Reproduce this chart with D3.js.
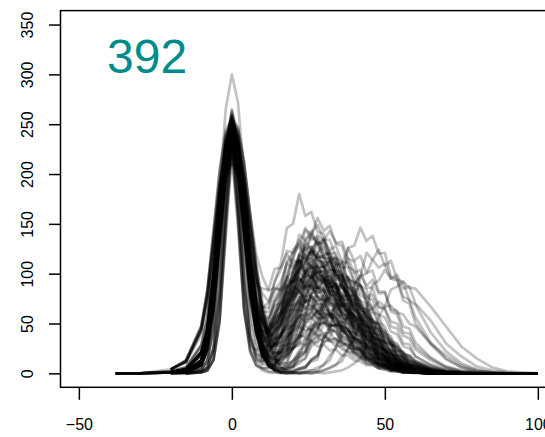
<!DOCTYPE html>
<html>
<head>
<meta charset="utf-8">
<script src="https://cdn.jsdelivr.net/npm/d3@7"></script>
<style>
html,body{margin:0;padding:0;background:#fff;}
svg{display:block;}
text{font-family:"Liberation Sans",Arial,Helvetica,sans-serif;}
</style>
</head>
<body>
<svg id="chart" width="545" height="437"></svg>
<script>
// x grid shared by every curve
const xs = [-38,-30,-20,-15,-10,-8,-6,-4,-2,0,2,4,6,8,10,12,14,16,18,20,22,24,26,28,30,32,34,36,38,40,42,44,46,48,50,52,54,56,58,60,65,70,75,80,85,90,95,100];

const xTicks = [-50, 0, 50, 100];
const yTicks = [0, 50, 100, 150, 200, 250, 300, 350];
const label = "392";

// curves (one per trace)
const c01 = [null,null,1,1,6,18,60,130,205,240,206,137,74,38,27,29,41,60,73,97,103,114,106,108,95,93,79,75,60,54,40,36,24,21,13,12,7,6,3,2,1,0,0,0,0,null,null,null];
const c02 = [null,null,1,2,12,33,81,154,221,250,224,162,96,51,30,22,33,41,66,80,105,112,124,116,118,104,103,86,80,63,58,43,38,26,23,14,13,7,6,3,1,0,0,0,0,0,null,null];
const c03 = [0,0,1,4,19,40,91,158,211,230,215,169,110,68,52,44,60,69,89,93,104,96,98,86,85,70,67,52,49,35,32,22,19,12,11,6,5,2,2,1,0,0,0,null,null,null,null,null];
const c04 = [null,null,1,2,13,34,83,157,225,255,228,165,96,50,25,18,15,27,36,58,70,93,98,108,100,103,90,89,74,71,55,51,37,34,22,21,12,11,5,5,2,1,0,0,0,0,0,0];
const c05 = [null,null,null,0,2,6,23,75,158,220,163,85,36,19,18,29,37,61,75,104,113,133,125,131,116,115,97,93,74,70,50,47,31,29,17,16,9,8,4,4,1,0,0,0,null,null,null,null];
const c06 = [0,0,1,2,12,33,80,151,216,245,221,160,97,55,33,37,40,60,66,86,85,94,84,87,74,75,59,57,42,40,28,26,16,15,8,8,4,4,1,2,0,0,0,0,0,null,null,null];
const c07 = [null,null,4,12,44,78,132,188,225,235,227,196,148,101,65,43,36,39,47,74,85,110,109,120,107,111,94,95,75,74,54,52,35,33,21,20,11,11,5,5,2,0,0,0,0,0,null,null];
const c08 = [null,null,1,2,13,35,84,160,230,260,233,170,102,59,38,44,51,78,93,124,130,146,134,137,121,119,99,94,73,69,50,46,30,27,16,16,8,8,4,4,1,0,0,0,0,0,0,null];
const c09 = [null,null,null,0,1,3,13,52,141,225,150,61,21,8,5,6,7,17,20,38,46,70,78,95,90,98,87,88,74,74,58,55,41,38,26,24,15,14,8,7,3,1,0,0,0,null,null,null];
const c10 = [null,null,4,13,47,83,141,200,240,250,242,208,158,109,72,50,45,51,61,90,101,126,119,129,114,116,98,97,78,74,55,52,35,33,20,19,10,10,4,4,1,0,0,0,0,0,0,null];
const c11 = [0,0,1,2,12,32,78,148,212,240,217,160,99,60,42,48,52,70,73,88,82,87,76,77,64,62,49,47,34,31,21,20,11,11,5,6,2,2,1,1,0,0,0,0,null,null,null,null];
const c12 = [null,null,1,2,11,31,75,142,203,230,206,149,86,46,20,16,12,24,30,51,63,89,96,113,106,112,99,99,85,81,64,60,44,41,28,26,15,14,7,7,2,1,0,0,0,0,null,null];
const c13 = [null,null,null,0,2,6,26,84,176,245,182,95,40,18,15,22,28,48,57,81,88,103,96,101,88,90,75,73,57,55,40,37,25,23,14,13,7,7,3,3,1,0,0,0,0,null,null,null];
const c14 = [null,null,1,2,11,29,70,133,190,215,193,139,82,43,27,18,30,37,63,78,109,118,139,130,135,120,121,102,96,78,72,54,48,34,30,19,17,10,9,4,2,1,0,0,0,0,0,null];
const c15 = [0,0,1,4,21,45,101,175,234,255,237,186,121,72,52,40,55,63,86,92,109,101,106,94,95,80,77,61,57,42,38,26,23,14,13,7,7,3,3,2,0,0,0,0,0,0,null,null];
const c16 = [null,null,1,2,12,32,78,148,212,240,215,155,90,47,18,12,5,10,11,25,30,50,59,80,84,94,85,90,77,78,63,61,46,44,31,29,19,17,10,10,4,1,0,0,0,0,null,null];
const c17 = [null,null,null,0,1,3,14,54,147,235,157,65,25,13,12,18,24,40,45,64,63,74,66,69,60,60,49,48,36,35,24,23,14,14,7,8,4,3,1,2,0,0,0,0,0,0,0,0];
const c18 = [null,null,1,2,12,33,81,154,221,250,224,161,94,50,25,21,21,40,50,83,99,134,139,156,143,148,130,128,107,103,79,74,53,50,32,30,18,16,9,8,3,1,0,0,0,0,0,null];
const c19 = [0,0,4,11,43,76,128,182,219,228,220,190,143,97,61,38,28,28,28,44,48,61,56,62,55,57,48,47,37,36,26,25,16,15,9,9,5,4,2,2,1,0,0,0,0,0,0,0];
const c20 = [null,null,1,2,12,32,79,149,214,244,221,164,106,68,62,62,83,92,110,106,114,101,102,86,85,68,65,49,45,31,29,18,17,9,9,4,5,1,2,1,0,0,0,0,null,null,null,null];
const c21 = [null,null,null,0,1,3,14,57,155,248,165,67,23,8,5,5,9,19,25,47,58,87,97,119,116,123,109,111,94,92,73,70,51,49,33,31,19,18,10,9,3,1,0,0,0,0,0,0];
const c22 = [null,null,1,2,12,31,77,145,208,236,211,152,88,46,23,18,14,24,25,38,39,48,43,46,40,41,33,32,25,24,17,16,10,10,5,6,3,3,1,1,0,0,0,0,0,null,null,null];
const c23 = [null,null,4,13,47,84,142,202,242,252,244,210,158,105,63,34,17,9,8,10,21,27,46,52,72,74,84,76,80,68,69,57,54,42,40,29,26,17,16,10,5,2,1,0,0,0,0,null];
const c24 = [null,null,1,2,12,31,75,143,205,232,210,155,96,59,51,50,72,84,111,116,130,119,123,106,107,88,85,66,62,45,41,27,26,15,14,8,7,3,3,2,1,0,0,0,0,0,null,null];
const c25 = [null,null,1,3,15,40,98,185,265,300,272,200,125,76,66,66,92,110,146,150,180,158,162,142,140,116,111,87,81,58,53,36,32,20,17,10,9,4,4,2,1,0,0,0,null,null,null,null];
const c26 = [null,null,1,2,12,33,80,151,216,245,220,158,92,48,18,9,4,3,4,7,12,15,31,40,66,80,108,110,126,113,118,101,103,82,82,62,59,41,40,27,15,6,2,1,0,0,0,0];
const c27 = [null,null,4,12,45,79,134,190,228,238,230,198,149,99,60,32,15,6,2,2,4,6,13,17,36,46,79,92,126,128,146,133,138,120,121,97,95,73,70,50,29,14,6,2,1,0,0,0];
const c28 = [null,null,1,2,12,33,81,154,221,250,224,161,94,47,21,8,3,1,1,0,1,2,3,6,8,18,25,47,58,89,97,121,114,124,108,113,94,92,73,69,41,22,10,4,1,0,0,0];
const c29 = [null,null,null,0,2,6,25,83,173,242,179,93,36,13,5,2,1,0,1,0,1,0,1,1,3,5,9,12,26,33,55,66,89,93,104,95,99,85,87,70,53,30,17,7,3,1,0,0];
const c30 = [null,null,1,2,11,31,75,142,203,230,206,149,86,43,19,8,3,1,0,1,0,1,0,1,0,1,2,3,6,10,15,27,38,57,67,84,87,92,86,85,67,47,27,15,6,2,1,0];
const c31 = [null,null,1,2,12,33,80,151,216,245,220,158,92,46,22,7,4,2,6,7,18,22,44,52,81,88,113,104,115,101,104,86,86,67,65,47,45,30,29,17,9,4,1,0,0,0,0,null];
const c32 = [null,null,4,12,44,79,133,189,226,236,228,197,147,98,59,31,15,6,3,3,5,7,12,14,35,45,70,76,95,90,98,88,94,80,81,64,63,47,45,31,16,7,3,1,0,0,0,0];
const c33 = [null,null,1,2,12,33,81,153,219,248,222,160,93,47,22,10,7,5,10,12,20,22,32,31,37,33,35,29,31,24,25,18,18,12,12,7,7,4,3,2,1,0,0,0,null,null,null,null];
const c34 = [null,null,1,2,11,30,73,139,200,226,203,146,85,42,19,8,3,1,0,1,0,1,0,2,3,6,8,17,24,37,47,62,65,72,67,68,61,59,50,47,30,18,8,3,1,0,0,0];
const c35 = [null,null,1,2,13,35,84,160,230,264,241,184,123,88,85,84,105,106,120,109,114,98,99,82,80,60,57,41,38,25,23,14,12,7,7,3,3,1,1,1,0,0,0,null,null,null,null,null];
const c36 = [null,null,null,0,1,3,14,55,150,240,160,65,22,8,3,1,1,1,0,1,0,1,3,3,9,13,27,36,59,72,98,100,114,106,110,95,93,77,74,56,31,15,6,2,1,0,0,0];
const c37 = [null,null,1,1,8,24,66,135,201,232,203,140,81,44,33,32,47,60,86,99,119,113,123,114,110,96,92,75,69,53,48,35,31,20,18,10,9,5,4,2,1,0,0,0,0,0,null,null];
const c38 = [0,0,1,4,21,43,98,170,227,248,232,183,120,74,52,39,49,53,71,77,95,93,104,95,99,86,87,70,69,52,50,35,33,21,19,11,11,5,5,2,1,0,0,0,0,0,0,0];
const c39 = [null,null,0,0,1,3,13,50,136,218,147,63,28,23,29,47,58,84,94,114,110,119,106,107,95,90,72,68,50,47,31,29,18,17,9,9,4,4,1,2,0,0,0,0,null,null,null,null];
const c40 = [null,null,4,13,48,85,144,205,245,256,248,213,160,108,67,41,28,27,36,43,67,72,91,85,93,81,85,69,70,54,53,38,37,24,23,13,14,7,7,3,1,0,0,0,0,0,null,null];
const c41 = [null,null,1,2,12,32,78,148,212,242,218,160,97,54,38,28,35,36,47,48,57,52,56,49,51,42,43,33,33,24,23,15,14,8,8,4,4,2,2,1,0,0,0,0,0,null,null,null];
const c42 = [0,0,1,4,19,41,92,160,214,236,224,183,131,93,80,72,84,85,97,91,97,87,88,76,74,59,56,43,38,27,24,16,14,8,8,4,4,1,1,1,0,0,0,0,null,null,null,null];
const c43 = [null,null,1,1,9,27,74,153,227,262,229,158,89,48,25,27,30,51,64,94,106,129,124,134,119,121,104,100,81,76,58,52,38,32,22,18,12,9,5,4,2,1,0,0,0,0,0,null];
const c44 = [null,null,4,11,39,70,118,168,201,210,203,175,131,88,55,32,21,20,23,43,53,80,90,110,106,113,102,102,87,85,68,64,49,45,31,29,18,16,9,8,3,1,0,0,0,0,0,0];
const c45 = [null,null,0,1,4,12,46,117,199,248,209,132,70,42,43,44,60,68,88,92,106,101,108,97,98,84,80,66,61,47,42,30,27,17,16,9,8,4,4,2,1,0,0,0,0,null,null,null];
const c46 = [0,0,1,4,20,41,93,162,216,236,219,172,111,67,46,35,43,47,63,64,73,66,69,60,60,49,48,37,35,25,23,15,14,8,8,4,4,2,1,1,0,0,0,0,0,0,null,null];
const c47 = [null,null,1,2,13,34,82,155,223,252,226,167,101,56,40,31,43,49,71,81,104,109,127,120,127,114,115,98,96,78,73,56,51,35,32,20,18,10,10,5,2,1,0,0,0,0,0,null];
const c48 = [null,null,4,11,42,75,127,181,217,226,219,188,142,97,63,42,34,37,47,56,76,78,89,81,84,73,73,60,58,45,42,30,28,18,17,10,9,5,4,3,1,0,0,0,0,0,null,null];
const c49 = [null,null,1,1,8,25,69,142,212,244,214,147,81,41,14,9,5,10,11,26,33,56,65,89,92,104,95,98,86,85,70,67,52,49,35,32,22,19,12,11,4,1,0,0,0,0,0,0];
const c50 = [null,null,1,4,20,41,93,161,215,234,216,170,110,66,48,41,58,71,101,114,139,134,143,131,130,112,110,88,81,63,57,41,36,23,20,13,10,6,5,3,1,0,0,0,0,0,0,null];
const c51 = [null,null,0,1,4,13,48,126,214,265,226,146,83,55,54,55,68,70,82,77,83,72,75,63,62,49,47,35,33,22,21,13,12,7,6,3,3,1,1,1,0,0,0,0,null,null,null,null];
const c52 = [null,null,1,2,11,30,72,137,196,222,200,145,86,45,29,17,21,21,29,30,38,36,42,37,40,34,35,28,28,21,20,14,13,9,8,5,4,2,2,1,0,0,0,0,0,null,null,null];
const c53 = [0,0,2,6,29,57,115,185,235,250,238,195,134,84,58,43,50,60,82,94,113,109,118,106,107,91,89,71,67,50,47,33,30,19,17,9,9,4,4,2,1,0,0,0,0,0,0,0];
const c54 = [null,null,1,1,8,25,67,139,206,238,208,144,79,40,17,12,9,17,20,34,38,55,55,63,56,59,51,52,42,41,31,30,20,20,12,12,7,7,3,3,1,0,0,0,0,null,null,null];
const c55 = [null,null,1,4,21,43,97,169,226,246,228,176,115,66,42,28,34,39,56,67,92,99,123,121,134,124,128,112,111,92,88,70,64,47,43,29,26,16,14,8,3,1,0,0,0,0,0,0];
const c56 = [null,null,0,0,2,6,24,79,165,230,171,88,36,16,12,15,22,39,49,73,82,100,96,104,92,93,79,77,61,59,44,41,29,27,16,15,9,8,4,4,1,0,0,0,0,0,null,null];
const c57 = [0,0,1,2,13,34,83,157,224,254,229,168,103,61,48,45,63,74,97,102,114,104,108,96,94,79,75,59,55,41,37,25,22,14,12,7,6,3,3,1,0,0,0,0,null,null,null,null];
const c58 = [null,null,1,4,18,37,85,147,196,214,198,155,100,58,37,24,29,31,43,48,63,64,76,72,77,69,70,59,58,46,44,33,31,21,19,12,11,6,5,3,1,0,0,0,0,null,null,null];
const c59 = [0,0,2,6,28,55,111,179,228,242,230,188,130,81,53,37,43,50,68,78,93,91,97,88,87,76,73,59,55,42,38,27,24,15,14,8,7,4,3,2,1,0,0,0,0,0,0,null];
const c60 = [null,null,1,1,9,27,74,152,225,260,227,157,87,43,16,7,3,5,5,13,17,34,40,62,69,86,80,88,77,79,65,65,51,50,37,34,23,22,13,12,5,2,1,0,0,0,0,0];
const c61 = [null,null,1,2,11,30,74,141,201,230,209,156,103,70,66,71,92,104,123,121,128,115,115,100,96,80,73,57,50,36,32,21,18,11,10,5,4,2,2,1,0,0,0,0,null,null,null,null];
const c62 = [null,null,0,1,4,12,46,119,201,248,207,124,60,30,17,25,31,55,71,104,119,144,140,149,134,134,116,112,92,85,65,59,42,37,24,22,13,11,6,5,2,1,0,0,0,0,null,null];
const c63 = [null,null,4,12,44,79,133,189,226,236,228,197,149,101,63,38,25,21,23,25,37,38,48,46,52,47,49,43,43,35,34,26,25,17,16,11,10,6,5,3,1,0,0,0,0,0,0,0];
const c64 = [null,null,1,4,21,44,99,172,229,250,231,181,116,67,45,33,43,51,73,81,100,96,103,93,94,79,78,62,59,44,41,28,26,16,15,8,8,4,3,2,1,0,0,0,0,0,null,null];
const c65 = [null,null,1,1,7,23,62,128,191,220,197,139,83,49,42,40,54,63,85,92,113,112,124,115,118,104,103,85,82,63,60,43,41,27,24,15,13,7,6,3,1,0,0,0,0,0,0,null];
const c66 = [null,null,1,2,12,33,79,151,216,244,219,158,92,44,21,7,4,2,5,6,15,20,37,45,70,76,95,92,97,88,88,76,74,59,56,42,39,27,25,17,8,3,1,0,0,0,0,0];
const c67 = [0,0,1,4,21,45,101,176,235,256,238,187,122,74,53,42,56,60,80,82,94,85,90,77,78,64,63,47,45,32,30,19,18,10,10,5,5,2,2,1,0,0,0,0,0,null,null,null];
const c68 = [null,null,0,1,4,12,44,111,189,232,193,116,53,25,10,14,15,30,38,64,75,102,106,119,110,114,99,99,82,79,60,58,41,39,25,23,14,13,7,6,2,1,0,0,0,0,null,null];
const c69 = [null,null,2,6,28,55,112,182,233,252,246,211,160,119,97,83,86,83,88,80,83,73,72,61,57,45,42,31,28,19,17,10,9,5,4,2,2,1,1,0,0,0,0,null,null,null,null,null];
const c70 = [null,null,1,2,11,30,73,139,200,226,204,149,89,46,30,18,21,19,26,25,31,28,32,27,29,23,24,18,18,13,12,8,8,5,4,2,2,1,1,1,0,0,0,0,0,0,null,null];
const c71 = [null,null,1,1,8,26,71,147,218,252,221,152,84,42,17,12,8,17,22,41,52,76,86,104,101,108,97,98,84,82,66,63,47,44,30,28,17,16,9,8,3,1,0,0,0,0,0,0];
const c72 = [null,null,1,4,20,42,94,164,218,238,220,171,109,63,40,28,39,49,74,89,119,126,139,129,133,117,115,96,92,72,67,49,45,30,26,16,14,8,7,4,2,1,0,0,0,0,0,null];
const c73 = [null,null,0,0,2,6,26,84,176,246,182,94,37,15,9,8,9,16,18,31,36,50,53,66,66,72,67,69,61,60,50,48,37,35,25,23,15,14,8,7,3,1,0,0,0,null,null,null];
const c74 = [0,0,2,5,25,50,100,162,205,218,207,170,118,74,52,38,48,58,79,90,109,105,113,101,103,87,86,69,66,49,46,32,29,19,17,10,9,5,4,2,1,0,0,0,0,0,0,0];
const c75 = [null,null,1,2,13,34,84,159,228,258,231,167,97,48,27,14,18,20,37,45,70,77,95,90,98,86,89,74,74,58,56,42,39,27,24,15,14,8,7,4,2,1,0,0,0,0,0,0];
const c76 = [null,null,1,4,20,41,93,161,215,234,216,168,105,56,29,11,6,2,1,1,4,5,14,18,35,41,63,68,86,81,88,77,79,66,65,52,50,38,35,24,13,6,2,1,0,0,0,0];
const c77 = [null,null,1,4,20,43,97,168,224,244,226,175,116,70,48,39,49,55,70,75,82,77,78,70,68,58,54,43,40,29,26,17,16,10,9,5,4,2,2,1,0,0,0,0,0,null,null,null];
const c78 = [null,null,1,2,12,31,77,145,208,236,211,152,89,46,27,15,19,22,36,43,57,60,67,62,64,56,56,46,44,34,32,23,22,14,13,8,7,4,3,2,1,0,0,0,0,0,null,null];
const c79 = [null,null,1,1,8,26,71,146,217,250,219,151,83,40,18,9,7,12,16,29,37,54,62,74,73,77,70,69,60,58,47,44,33,31,22,20,13,11,7,5,2,1,0,0,0,0,0,0];
const c80 = [null,null,1,2,11,30,74,141,201,228,204,149,89,48,33,27,37,46,64,74,89,84,92,85,83,72,69,57,52,40,36,27,24,15,13,9,7,4,3,2,1,0,0,0,0,0,null,null];
const c81 = [null,null,1,4,22,45,102,177,237,258,239,185,116,64,33,16,13,13,19,25,36,41,50,48,51,47,49,43,42,35,33,25,23,16,14,9,8,5,4,2,1,0,0,0,0,0,0,null];
const c82 = [null,null,1,2,12,32,78,148,212,240,215,155,90,44,21,9,5,5,8,13,23,30,43,49,60,58,61,55,55,48,46,37,35,27,24,17,15,10,9,6,3,1,0,0,0,0,0,0];
const c83 = [null,null,1,1,8,24,66,135,201,233,206,145,87,51,42,40,52,58,69,68,71,65,64,56,53,44,41,31,29,20,18,12,11,6,6,3,3,1,1,1,0,0,0,0,null,null,null,null];
const c84 = [null,null,1,2,12,33,81,153,219,248,222,160,95,48,31,20,29,37,57,70,92,98,108,101,103,91,90,76,72,57,52,38,35,24,22,13,12,6,6,3,1,0,0,0,0,0,0,null];
const c85 = [null,null,1,4,19,39,88,153,204,222,205,159,100,56,27,11,7,4,6,8,16,21,36,43,57,60,67,62,64,56,56,46,44,34,32,23,22,14,13,8,4,1,0,0,0,0,0,0];
const c86 = [null,null,1,2,13,34,83,157,224,254,227,164,99,55,39,34,48,61,86,99,118,116,121,117,106,101,87,80,65,58,44,39,27,24,15,13,8,7,4,3,1,0,0,0,0,0,null,null];
const c87 = [null,null,1,1,8,25,67,139,206,238,208,144,79,40,17,13,12,22,29,46,57,74,80,87,82,83,74,72,61,57,46,42,31,28,19,17,11,9,6,4,2,1,0,0,0,0,0,0];
const c88 = [0,0,1,4,21,43,97,169,226,246,228,176,114,66,41,26,30,31,40,41,47,43,45,38,38,32,31,24,22,16,15,10,9,5,5,3,2,1,1,1,0,0,0,0,0,null,null,null];
const c89 = [null,null,1,2,11,31,75,142,203,230,206,149,86,46,20,14,11,22,29,54,68,101,113,139,133,143,131,132,115,112,88,84,61,59,40,37,23,21,12,10,4,1,0,0,0,0,0,0];
const c90 = [null,null,1,2,12,32,79,149,214,242,217,156,91,45,21,8,4,1,3,6,10,15,27,33,50,57,69,67,71,64,65,55,54,43,42,31,29,20,18,13,6,2,1,0,0,0,0,0];
const c91 = [null,null,1,4,21,44,100,173,231,252,233,181,115,64,38,24,29,34,52,63,84,88,97,91,94,82,81,68,65,51,47,34,32,21,19,12,11,6,5,3,1,0,0,0,0,0,0,null];
const c92 = [null,null,1,1,8,24,64,132,196,226,198,138,78,40,27,21,31,37,55,61,76,71,77,69,70,60,58,46,44,33,31,21,20,12,11,6,5,3,2,2,0,0,0,0,0,null,null,null];
const c93 = [null,null,1,2,12,33,79,150,216,244,219,158,92,44,21,8,3,1,1,2,5,6,14,18,30,36,49,51,57,52,54,47,47,39,37,29,27,20,18,12,7,3,1,0,0,0,0,0];
const c94 = [null,null,1,4,20,41,93,161,215,234,216,168,105,58,30,14,13,13,23,30,50,59,80,83,93,86,89,78,77,64,61,48,44,33,29,20,17,11,9,6,2,1,0,0,0,0,0,0];
const c95 = [null,null,1,2,13,34,83,158,226,258,233,172,109,68,57,56,71,80,93,92,96,88,87,77,73,60,55,43,38,27,24,16,14,8,7,4,3,2,1,1,0,0,0,0,null,null,null,null];
const c96 = [null,null,1,1,8,25,68,140,208,240,210,145,80,40,17,12,9,15,17,26,28,35,33,36,32,33,27,27,21,21,15,14,10,9,6,6,3,3,2,1,0,0,0,0,0,0,null,null];
const c97 = [null,null,1,4,21,43,98,170,227,248,229,178,112,63,30,12,10,11,17,25,44,57,82,96,112,112,117,106,106,92,89,72,67,52,47,33,30,19,17,11,5,2,1,0,0,0,0,0];
const c98 = [null,null,1,2,12,31,77,145,208,236,211,152,88,48,22,17,15,26,33,55,66,88,93,103,96,98,87,85,72,67,54,49,37,33,23,20,13,12,7,5,2,1,0,0,0,0,0,null];
const c99 = [0,0,1,4,19,40,91,158,211,230,213,166,105,59,37,23,29,31,43,48,59,57,61,55,56,48,47,37,36,26,25,16,15,10,9,5,4,2,2,1,0,0,0,0,0,0,0,0];
const c100 = [null,null,1,2,12,33,81,154,221,250,226,167,104,63,53,52,74,87,113,121,134,124,127,113,111,94,89,71,64,48,43,29,26,16,14,8,7,4,3,2,1,0,0,0,0,null,null,null];

const curves = [c01,c02,c03,c04,c05,c06,c07,c08,c09,c10,c11,c12,c13,c14,c15,c16,c17,c18,c19,c20,
  c21,c22,c23,c24,c25,c26,c27,c28,c29,c30,c31,c32,c33,c34,c35,c36,c37,c38,c39,c40,
  c41,c42,c43,c44,c45,c46,c47,c48,c49,c50,c51,c52,c53,c54,c55,c56,c57,c58,c59,c60,
  c61,c62,c63,c64,c65,c66,c67,c68,c69,c70,c71,c72,c73,c74,c75,c76,c77,c78,c79,c80,
  c81,c82,c83,c84,c85,c86,c87,c88,c89,c90,c91,c92,c93,c94,c95,c96,c97,c98,c99,c100];

const svg = d3.select("#chart");
const pLeft = 60.5, pTop = 10.6, pRight = 556.2, pBottom = 387.3;

const x = d3.scaleLinear().domain([-56, 106]).range([pLeft, pRight]);
const y = d3.scaleLinear().domain([-14, 364]).range([pBottom, pTop]);

svg.append("defs").append("clipPath").attr("id","clip")
  .append("rect").attr("x",pLeft).attr("y",pTop).attr("width",pRight-pLeft).attr("height",pBottom-pTop);

const line = d3.line()
  .defined(d => d[1] != null)
  .x(d => x(d[0]))
  .y(d => y(d[1]));

const g = svg.append("g").attr("clip-path","url(#clip)");
g.selectAll("path.curve")
  .data(curves.map(c => xs.map((xv,i) => [xv, c[i] === undefined ? null : c[i]])))
  .enter().append("path")
  .attr("class","curve")
  .attr("d", line)
  .attr("fill","none")
  .attr("stroke","#000")
  .attr("stroke-opacity",0.24)
  .attr("stroke-width",2.7)
  .attr("stroke-linejoin","round");

// box
svg.append("rect")
  .attr("x",pLeft).attr("y",pTop)
  .attr("width",pRight-pLeft).attr("height",pBottom-pTop)
  .attr("fill","none").attr("stroke","#000").attr("stroke-width",1.5);

// y axis
const yAxis = d3.axisLeft(y).tickValues(yTicks).tickSize(11.5).tickPadding(0).tickFormat(d3.format("d"));
const ya = svg.append("g").attr("transform",`translate(${pLeft},0)`).call(yAxis);
ya.select(".domain").remove();
ya.selectAll(".tick line").attr("stroke","#000").attr("stroke-width",1.5);
ya.selectAll(".tick text")
  .attr("x",0).attr("dy",0)
  .attr("transform","translate(-27.5,0) rotate(-90)")
  .attr("text-anchor","middle")
  .attr("font-size",16).attr("fill","#000")
  .style("font-family","'Liberation Sans',Arial,sans-serif");

// x axis
const xAxis = d3.axisBottom(x).tickValues(xTicks).tickSize(12.5).tickPadding(0).tickFormat(d => d < 0 ? "\u2212" + Math.abs(d) : String(d));
const xa = svg.append("g").attr("transform",`translate(0,${pBottom})`).call(xAxis);
xa.select(".domain").remove();
xa.selectAll(".tick line").attr("stroke","#000").attr("stroke-width",1.5);
xa.selectAll(".tick text")
  .attr("y",42.5).attr("dy",0)
  .attr("font-size",16).attr("fill","#000")
  .style("font-family","'Liberation Sans',Arial,sans-serif");

// big label
svg.append("text")
  .attr("x",107).attr("y",72.5)
  .attr("font-size",48)
  .attr("fill","#008B8B")
  .text(label);
</script>
</body>
</html>
